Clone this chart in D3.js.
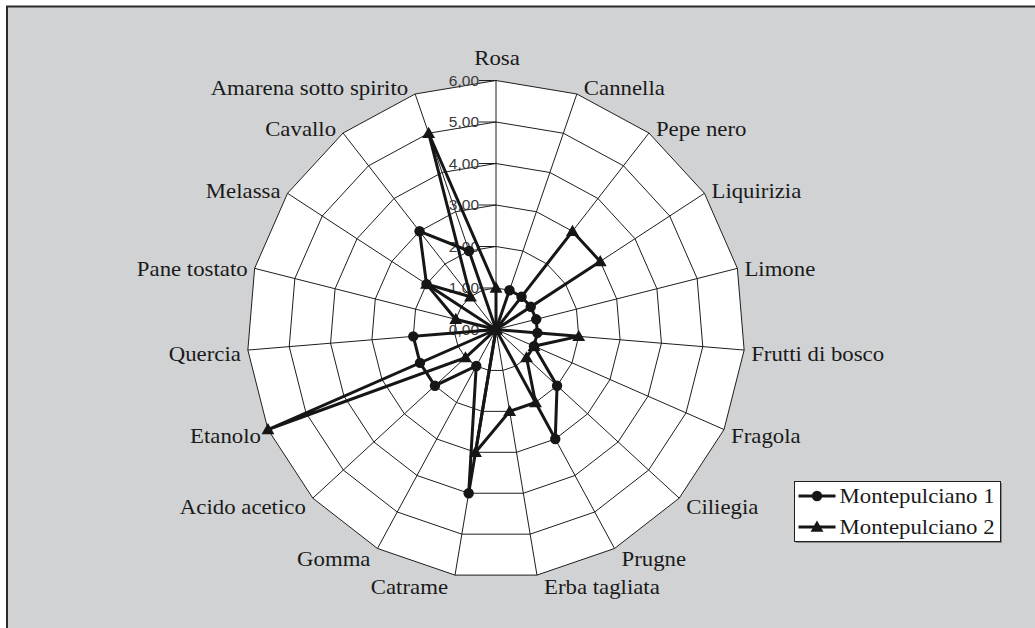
<!DOCTYPE html>
<html>
<head>
<meta charset="utf-8">
<script src="https://cdn.jsdelivr.net/npm/d3@7"></script>
<style>
  html, body { margin: 0; padding: 0; background: #ffffff; }
  svg { display: block; }
</style>
</head>
<body>
<svg id="chart" width="1035" height="628"></svg>
<script>
// Sensory profile of two Montepulciano wines (scores 0–6)
const categories = [
  "Rosa", "Cannella", "Pepe nero", "Liquirizia", "Limone", "Frutti di bosco",
  "Fragola", "Ciliegia", "Prugne", "Erba tagliata", "Catrame", "Gomma",
  "Acido acetico", "Etanolo", "Quercia", "Pane tostato", "Melassa", "Cavallo",
  "Amarena sotto spirito"
];
const seriesNames = ["Montepulciano 1", "Montepulciano 2"];
const montepulciano1 = [0, 1, 1, 1, 1, 1, 1, 2, 3, 0, 4, 1, 2, 2, 2, 0, 2, 3, 2];
const montepulciano2 = [1, 0, 3, 3, 0, 2, 1, 1, 2, 2, 3, 0, 1, 6, 0, 1, 2, 1, 5];
const tickValues = [0, 1, 2, 3, 4, 5, 6];
const tickLabels = ["0,00", "1,00", "2,00", "3,00", "4,00", "5,00", "6,00"];

const svg = d3.select("#chart");
const W = 1035, H = 628;
const cx = 496, cy = 329.5, R = 249;
const serif = "Liberation Serif, Times New Roman, serif";
const wide = 1.14; // horizontal stretch of the serif labels

const r = d3.scaleLinear().domain([0, 6]).range([0, R]);
const angle = d3.scaleLinear().domain([0, categories.length]).range([0, 2 * Math.PI]);

const px = (i, v) => cx + r(v) * Math.sin(angle(i));
const py = (i, v) => cy - r(v) * Math.cos(angle(i));

// chart area background with framed top/left edges
svg.append("rect").attr("x", 7).attr("y", 6).attr("width", W).attr("height", H)
  .attr("fill", "#d1d2d4");
svg.append("path").attr("d", `M7,${H} L7,6.5 L${W},6.5`)
  .attr("fill", "none").attr("stroke", "#2b2b2b").attr("stroke-width", 2);

const g = svg.append("g");
const idx = d3.range(categories.length);

// white plot polygon
const ring = v => d3.lineRadial()
  .angle(i => angle(i)).radius(() => r(v))
  .curve(d3.curveLinearClosed)(idx);

g.append("path").attr("transform", `translate(${cx},${cy})`)
  .attr("d", ring(6)).attr("fill", "#ffffff");

// concentric grid rings
g.selectAll("path.ring").data(tickValues.filter(v => v > 0)).enter()
  .append("path").attr("class", "ring")
  .attr("transform", `translate(${cx},${cy})`)
  .attr("d", d => ring(d))
  .attr("fill", "none").attr("stroke", "#1e1e1e").attr("stroke-width", 1);

// spokes
g.selectAll("line.spoke").data(idx).enter().append("line")
  .attr("x1", cx).attr("y1", cy)
  .attr("x2", i => px(i, 6)).attr("y2", i => py(i, 6))
  .attr("stroke", "#1e1e1e").attr("stroke-width", 1);

// value axis ticks and labels along the first spoke
g.selectAll("line.tick").data(tickValues).enter().append("line")
  .attr("x1", cx - 17).attr("x2", cx)
  .attr("y1", d => cy - r(d)).attr("y2", d => cy - r(d))
  .attr("stroke", "#1e1e1e").attr("stroke-width", 1);
g.selectAll("text.tick").data(tickValues).enter().append("text")
  .attr("x", cx - 17).attr("y", d => cy - r(d))
  .attr("dy", "0.35em")
  .attr("text-anchor", "end")
  .attr("font-family", "Liberation Sans, Arial, sans-serif")
  .attr("font-size", 15.5)
  .attr("fill", "#3a3a3a")
  .text((d, i) => tickLabels[i]);

// category labels
g.selectAll("text.cat").data(categories).enter().append("text")
  .attr("font-family", serif)
  .attr("font-size", 20)
  .attr("fill", "#1a1a1a")
  .each(function (d, i) {
    const a = angle(i);
    const s = Math.sin(a), c = Math.cos(a);
    const x0 = px(i, 6), y0 = py(i, 6);
    const t = d3.select(this);
    let x, y, anchor;
    if (Math.abs(s) < 0.1) {
      x = x0 + 1; y = y0 - 23; anchor = "middle";
    } else {
      x = x0 + (s > 0 ? 7 : -7); y = y0 + 3 - 9 * c;
      anchor = s > 0 ? "start" : "end";
    }
    t.attr("transform", `translate(${x},${y}) scale(${wide},1)`)
      .attr("text-anchor", anchor)
      .attr("dy", "0.35em").text(d);
  });

// data series
const seriesData = [montepulciano1, montepulciano2];
const markerSymbols = [d3.symbolCircle, d3.symbolTriangle];
const markerSizes = [85, 72];

const radialLine = d3.lineRadial()
  .angle((d, i) => angle(i)).radius(d => r(d))
  .curve(d3.curveLinearClosed);

seriesData.forEach((vals, s) => {
  const sg = g.append("g");
  sg.append("path").attr("transform", `translate(${cx},${cy})`)
    .attr("d", radialLine(vals))
    .attr("fill", "none").attr("stroke", "#161616")
    .attr("stroke-width", 3).attr("stroke-linejoin", "miter");
  sg.selectAll("path.mk").data(vals).enter().append("path")
    .attr("transform", (d, i) => `translate(${px(i, d)},${py(i, d) + (s === 1 ? 1 : 0)})`)
    .attr("d", d3.symbol().type(markerSymbols[s]).size(markerSizes[s]))
    .attr("fill", "#161616");
});

// legend
const lg = svg.append("g").attr("transform", "translate(794.5,481.5)");
lg.append("rect").attr("x", 1.5).attr("y", 1.5).attr("width", 206).attr("height", 60)
  .attr("fill", "#8d8d8d");
lg.append("rect").attr("width", 206).attr("height", 60)
  .attr("fill", "#ffffff").attr("stroke", "#1e1e1e").attr("stroke-width", 1);
seriesNames.forEach((name, s) => {
  const y = 14.5 + s * 31;
  lg.append("line").attr("x1", 4).attr("x2", 41).attr("y1", y).attr("y2", y)
    .attr("stroke", "#161616").attr("stroke-width", 3);
  lg.append("path").attr("transform", `translate(22.5,${y + (s === 1 ? 1 : 0)})`)
    .attr("d", d3.symbol().type(markerSymbols[s]).size(markerSizes[s]))
    .attr("fill", "#161616");
  lg.append("text")
    .attr("transform", `translate(45,${y}) scale(${wide},1)`)
    .attr("dy", "0.35em")
    .attr("font-family", serif)
    .attr("font-size", 20).attr("fill", "#1a1a1a")
    .text(name);
});
</script>
</body>
</html>
